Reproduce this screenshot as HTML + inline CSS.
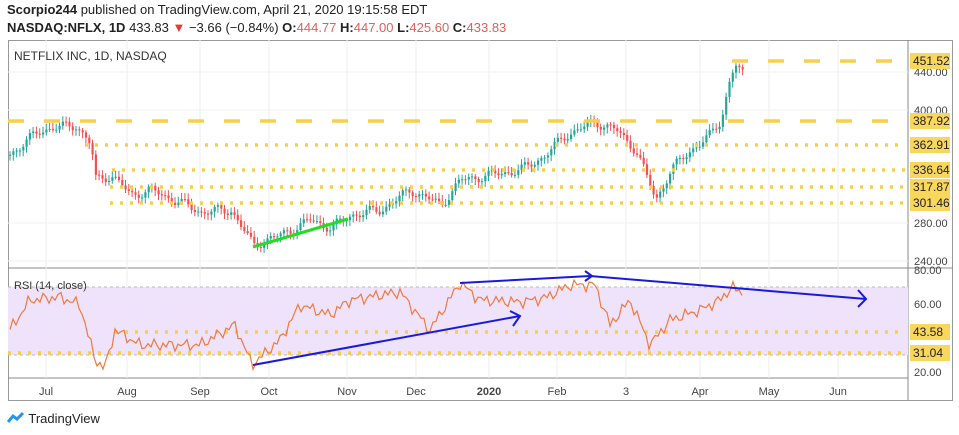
<!DOCTYPE html><html><head><meta charset="utf-8"><style>
body{margin:0;width:959px;height:435px;background:#fff;font-family:"Liberation Sans",sans-serif;overflow:hidden;position:relative}
.t{position:absolute;font-size:13px;color:#222;white-space:nowrap}
</style></head><body>
<div class="t" style="left:7px;top:2px"><b>Scorpio244</b> published on TradingView.com, April 21, 2020 19:15:58 EDT</div>
<div class="t" style="left:7px;top:20px"><b>NASDAQ:NFLX, 1D</b> 433.83 <span style="color:#e53935">▼</span> −3.66 (−0.84%) <b>O:</b><span style="color:#e0605a">444.77</span> <b>H:</b><span style="color:#e0605a">447.00</span> <b>L:</b><span style="color:#e0605a">425.60</span> <b>C:</b><span style="color:#e0605a">433.83</span></div>
<svg id="s" width="959" height="435" style="position:absolute;left:0;top:0" font-family="Liberation Sans, sans-serif"></svg>
<div class="t" style="left:7px;top:411px;font-size:13px"><svg width="18" height="14" style="vertical-align:-2px"><path d="M1 11 L6 5 L10 8 L16 2" stroke="#2196f3" stroke-width="3" fill="none"/></svg> TradingView</div>
<script>
const s=document.getElementById('s');let h='';
h+='<rect x="8.5" y="40.5" width="944" height="360" fill="none" stroke="#999"/>';
h+='<line x1="908" y1="40" x2="908" y2="400" stroke="#888"/><line x1="8" y1="268" x2="953" y2="268" stroke="#888"/><line x1="8" y1="378" x2="908" y2="378" stroke="#888"/>';
const xs=[[46,'Jul'],[127,'Aug'],[200,'Sep'],[269,'Oct'],[347,'Nov'],[416,'Dec'],[489,'2020'],[557,'Feb'],[626,'3'],[700,'Apr'],[769,'May'],[838,'Jun']];
xs.forEach(([x,l])=>{h+=`<line x1="${x}" y1="40" x2="${x}" y2="378" stroke="#eee"/><text x="${x}" y="395" font-size="11" fill="#444" text-anchor="middle" ${l=='2020'?'font-weight="bold"':''}>${l}</text>`});
[[440,72],[400,110],[280,223],[240,261]].forEach(([v,y])=>{h+=`<line x1="8" y1="${y}" x2="908" y2="${y}" stroke="#f2f2f2"/><text x="914" y="${y+4}" font-size="11" fill="#444">${v}.00</text>`});
[[80,270],[60,304],[20,372]].forEach(([v,y])=>{h+=`<text x="914" y="${y+4}" font-size="11" fill="#444">${v}.00</text>`});
h+='<rect x="8" y="287" width="900" height="68" fill="#efe2fb"/><line x1="8" y1="287" x2="908" y2="287" stroke="#bbb" stroke-dasharray="3,3"/><line x1="8" y1="355" x2="908" y2="355" stroke="#bbb" stroke-dasharray="3,3"/>';
h+='<text x="14" y="60" font-size="12" fill="#333">NETFLIX INC, 1D, NASDAQ</text><text x="14" y="289" font-size="11" fill="#333">RSI (14, close)</text>';
const P=[[8,155],[40,130],[75,125],[90,145],[95,180],[110,175],[130,195],[150,190],[200,212],[230,210],[252,245],[280,235],[310,220],[330,228],[350,215],[380,210],[410,190],[440,205],[460,180],[490,175],[520,170],[545,155],[565,135],[595,122],[615,130],[635,150],[655,200],[670,170],[690,150],[710,135],[720,120],[730,75],[735,65],[742,75]];
function interp(A,x){for(let i=0;i<A.length-1;i++)if(x>=A[i][0]&&x<=A[i+1][0]){const t=(x-A[i][0])/(A[i+1][0]-A[i][0]);return A[i][1]+t*(A[i+1][1]-A[i][1]);}return A[A.length-1][1];}
let prev=155;
for(let x=9;x<=742;x+=3.3){const c=interp(P,x)+Math.sin(x*1.7)*3+Math.sin(x*0.37)*3;const o=prev;const up=c<o;const col=up?'#26a69a':'#ef5350';const top=Math.min(o,c)-2-Math.abs(Math.sin(x))*4,bot=Math.max(o,c)+2+Math.abs(Math.cos(x))*4;h+=`<line x1="${x+1}" y1="${top}" x2="${x+1}" y2="${bot}" stroke="${col}"/><rect x="${x}" y="${Math.min(o,c)}" width="2.2" height="${Math.max(1,Math.abs(o-c))}" fill="${col}"/>`;prev=c;}
function lvl(y,dash,x1,lab){h+=`<line x1="${x1}" y1="${y}" x2="905" y2="${y}" stroke="#f9cf4a" stroke-width="3.5" stroke-dasharray="${dash}"/><rect x="910" y="${y-8}" width="40" height="16" fill="#f9d65c"/><text x="913" y="${y+4}" font-size="12" fill="#222">${lab}</text>`}
lvl(61,'16,20',732,'451.52');lvl(121,'16,20',8,'387.92');
lvl(145,'3,7',85,'362.91');lvl(170,'3,7',112,'336.64');lvl(187,'3,7',110,'317.87');lvl(203,'3,7',110,'301.46');
lvl(332,'3,7',115,'43.58');lvl(353,'3,7',8,'31.04');
h+='<line x1="253" y1="247" x2="348" y2="219" stroke="#22dd22" stroke-width="3"/>';
const R=[[10,330],[30,300],[60,297],[80,305],[95,360],[105,368],[115,330],[140,345],[200,345],[235,325],[252,365],[280,340],[300,305],[330,315],[350,300],[400,292],[430,330],[460,283],[480,300],[520,302],[545,298],[570,285],[595,285],[610,325],[630,300],[650,345],[670,320],[700,310],[720,300],[732,287],[742,293]];
let pts=[];for(let x=10;x<=742;x+=3)pts.push(x+','+(interp(R,x)+Math.sin(x*1.3)*4+Math.sin(x*0.4)*3).toFixed(1));
h+=`<polyline points="${pts.join(' ')}" fill="none" stroke="#f07a3c" stroke-width="1.2"/>`;
h+='<line x1="253" y1="365" x2="520" y2="316" stroke="#1a1adc" stroke-width="2"/><polyline points="510,311 520,316 513,326" fill="none" stroke="#1a1adc" stroke-width="2"/>';
h+='<polyline points="460,283 590,276 866,299" fill="none" stroke="#1a1adc" stroke-width="2"/><polyline points="858,290 866,299 858,307" fill="none" stroke="#1a1adc" stroke-width="2"/><polyline points="585,271 592,276 585,281" fill="none" stroke="#1a1adc" stroke-width="2"/>';
s.innerHTML=h;
</script></body></html>
